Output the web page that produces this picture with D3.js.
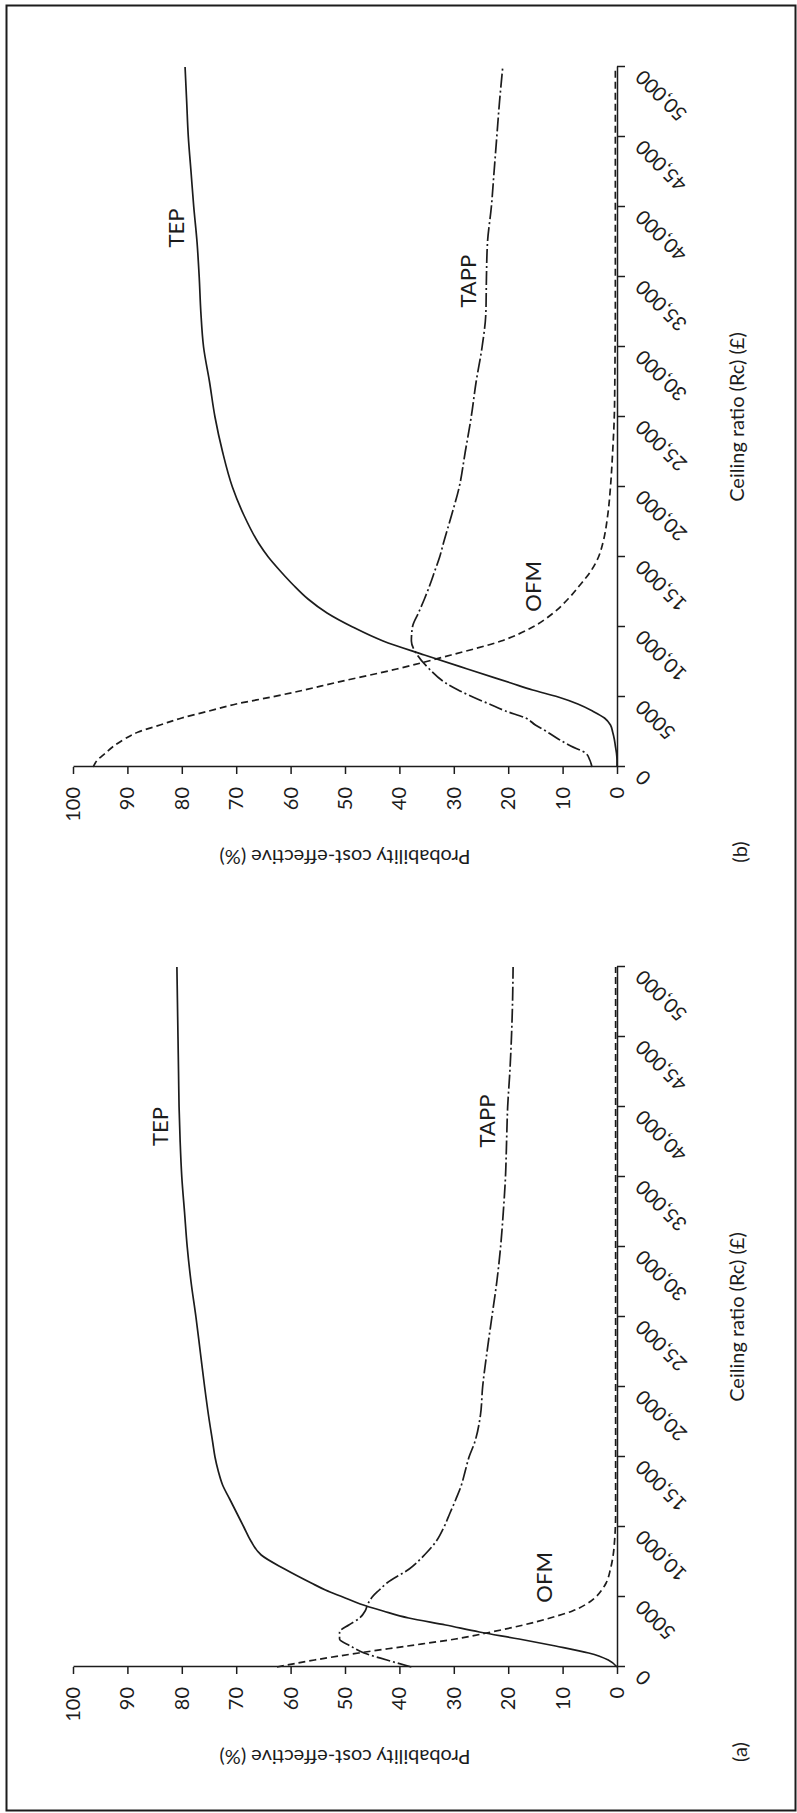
<!DOCTYPE html>
<html>
<head>
<meta charset="utf-8">
<script src="https://cdn.jsdelivr.net/npm/d3@7"></script>
<style>
  body { margin: 0; background: #fff; }
  svg { display: block; }
  text { font-family: Lato, "Open Sans", sans-serif; fill: #1c1c1c; }
</style>
</head>
<body>
<svg id="fig" width="797" height="1813"></svg>
<script>
// Ceiling ratio grid (£) shared by every curve
const ceilings = [0, 500, 1000, 1500, 2000, 2500, 3000, 3500, 4000, 4500, 5000, 5500, 6000,
  7000, 8000, 9000, 10000, 11000, 12000, 13000, 14000, 15000, 16000, 18000, 20000,
  22500, 25000, 27500, 30000, 32500, 35000, 37500, 40000, 42500, 45000, 47500, 50000];

// Panel (a): probability cost-effective (%)
const tepA  = [0, 1.6, 5.2, 11.3, 18, 25.3, 31.5, 38.3, 43, 47.2, 50.4, 53.6, 56.2,
  61.1, 65.4, 67.3, 68.6, 69.9, 71.2, 72.5, 73.3, 73.9, 74.3, 75.1, 75.8,
  76.6, 77.4, 78.3, 79, 79.5, 80, 80.3, 80.5, 80.6, 80.7, 80.8, 80.9];
const tappA = [37.8, 42.3, 46.5, 49, 51, 51, 49.3, 47.3, 46.3, 45.8, 45, 43.7, 42.3,
  38.2, 35.4, 33.2, 31.8, 30.7, 29.6, 28.6, 27.9, 27.2, 26.2, 25.1, 24.7,
  23.9, 23, 22.1, 21.4, 20.9, 20.5, 20.3, 20.1, 19.7, 19.4, 19.2, 19.1];
const ofmA  = [62.5, 55.6, 47.5, 38.5, 29.7, 23.1, 17.2, 12.3, 8.2, 5.6, 3.9, 2.8, 2.0,
  1.2, 0.7, 0.45, 0.3, 0.25, 0.25, 0.25, 0.25, 0.25, 0.25, 0.25, 0.25,
  0.25, 0.25, 0.25, 0.25, 0.25, 0.25, 0.25, 0.25, 0.25, 0.25, 0.25, 0.25];

// Panel (b): probability cost-effective (%)
const tepB  = [0, 0, 0.1, 0.3, 0.5, 0.8, 1.2, 2.3, 4.5, 7.2, 10.8, 15.5, 19.5,
  27.5, 35.4, 43, 48.6, 53.3, 56.8, 59.5, 61.9, 64.1, 65.9, 68.6, 70.7,
  72.5, 73.9, 74.9, 76.0, 76.5, 76.8, 77.2, 77.8, 78.3, 78.8, 79.1, 79.4];
const tappB = [4.6, 5.0, 5.8, 8.5, 10.8, 12.8, 15.0, 16.8, 20.5, 23.5, 26.5, 29.2, 31.5,
  34.5, 36.7, 37.8, 37.6, 36.5, 35.4, 34.4, 33.5, 32.6, 31.9, 30.4, 29.0,
  27.9, 26.8, 25.9, 24.8, 24.1, 24.0, 23.8, 23.1, 22.6, 22.1, 21.6, 21.0];
const ofmB  = [96.3, 95.5, 94, 92.5, 90.5, 88, 84, 80, 75, 70, 63.5, 57.5, 52,
  40.5, 30.5, 21.3, 15.5, 11.7, 9, 6.8, 4.8, 3.4, 2.6, 1.7, 1.2,
  0.8, 0.5, 0.4, 0.35, 0.3, 0.3, 0.3, 0.3, 0.3, 0.3, 0.3, 0.3];

// Axis ticks
const xTickValues = [0, 5000, 10000, 15000, 20000, 25000, 30000, 35000, 40000, 45000, 50000];
const xTickLabels = ["0", "5000", "10,000", "15,000", "20,000", "25,000", "30,000",
  "35,000", "40,000", "45,000", "50,000"];
const yTickValues = [0, 10, 20, 30, 40, 50, 60, 70, 80, 90, 100];

// Curve names and where their labels sit (ceiling £, probability %)
const seriesNames = ["TEP", "TAPP", "OFM"];
const labelCeilA = [38600, 39000, 6400];
const labelProbA = [84, 23.9, 13.4];
const labelCeilB = [38500, 34700, 12900];
const labelProbB = [81.1, 27.4, 15.4];

const panelTags = ["(a)", "(b)"];
const xTitle = "Ceiling ratio (Rc) (£)";
const yTitle = "Probability cost-effective (%)";

// ---- drawing ----
const svg = d3.select("#fig");
const INK = "#1c1c1c";

// outer frame
svg.append("rect")
  .attr("x", 6.5).attr("y", 5.5)
  .attr("width", 789).attr("height", 1805)
  .attr("fill", "none").attr("stroke", INK).attr("stroke-width", 2);

const W = 700, H = 544;
const x = d3.scaleLinear().domain([0, 50000]).range([0, W]);
const y = d3.scaleLinear().domain([0, 100]).range([H, 0]);

const dashes = { TEP: null, TAPP: "14,3,2,3", OFM: "7,4" };

function drawPanel(g, series, labelCeil, labelProb, tag) {
  // ceiling-ratio axis
  const xAxis = d3.axisBottom(x)
    .tickValues(xTickValues)
    .tickSize(8)
    .tickSizeOuter(0)
    .tickFormat((d, i) => xTickLabels[i]);
  const gx = g.append("g").attr("transform", `translate(0,${H})`).call(xAxis);
  gx.selectAll(".tick text")
    .attr("x", 0).attr("y", 0).attr("dy", 0)
    .attr("text-anchor", "end")
    .attr("transform", "translate(-2,27) rotate(-45)")
    .style("font-size", "20px");

  // probability axis
  const yAxis = d3.axisLeft(y)
    .tickValues(yTickValues)
    .tickSize(7)
    .tickPadding(13)
    .tickSizeOuter(0);
  const gy = g.append("g").call(yAxis);
  gy.selectAll(".tick text").style("font-size", "20px");

  [gx, gy].forEach(a => {
    a.select(".domain").attr("stroke", INK).attr("stroke-width", 1.5);
    a.selectAll(".tick line").attr("stroke", INK).attr("stroke-width", 1.5);
    a.selectAll(".tick text").attr("fill", INK);
  });

  // axis titles
  g.append("text")
    .attr("x", W / 2).attr("y", H + 120).attr("dy", "0.35em")
    .attr("text-anchor", "middle")
    .style("font-size", "20px")
    .text(xTitle);
  g.append("text")
    .attr("transform", `translate(-90,${H / 2}) rotate(-90)`)
    .attr("dy", "0.35em")
    .attr("text-anchor", "middle")
    .style("font-size", "20px")
    .text(yTitle);

  // panel tag
  g.append("text")
    .attr("x", -85).attr("y", H + 123).attr("dy", "0.35em")
    .attr("text-anchor", "middle")
    .style("font-size", "20px")
    .text(tag);

  // curves
  const line = d3.line()
    .x((d, i) => x(ceilings[i]))
    .y(d => y(d))
    .curve(d3.curveMonotoneX);

  series.forEach((vals, k) => {
    const name = seriesNames[k];
    g.append("path")
      .datum(vals)
      .attr("d", line)
      .attr("fill", "none")
      .attr("stroke", INK)
      .attr("stroke-width", 1.7)
      .attr("stroke-dasharray", dashes[name]);
    g.append("text")
      .attr("x", x(labelCeil[k])).attr("y", y(labelProb[k])).attr("dy", "0.35em")
      .attr("text-anchor", "middle")
      .style("font-size", "22px")
      .text(name);
  });
}

// the figure is set on its side: each panel is turned a quarter-turn anticlockwise
const gB = svg.append("g").attr("transform", "translate(73,767) rotate(-90)");
drawPanel(gB, [tepB, tappB, ofmB], labelCeilB, labelProbB, panelTags[1]);

const gA = svg.append("g").attr("transform", "translate(73,1667) rotate(-90)");
drawPanel(gA, [tepA, tappA, ofmA], labelCeilA, labelProbA, panelTags[0]);
</script>
</body>
</html>
